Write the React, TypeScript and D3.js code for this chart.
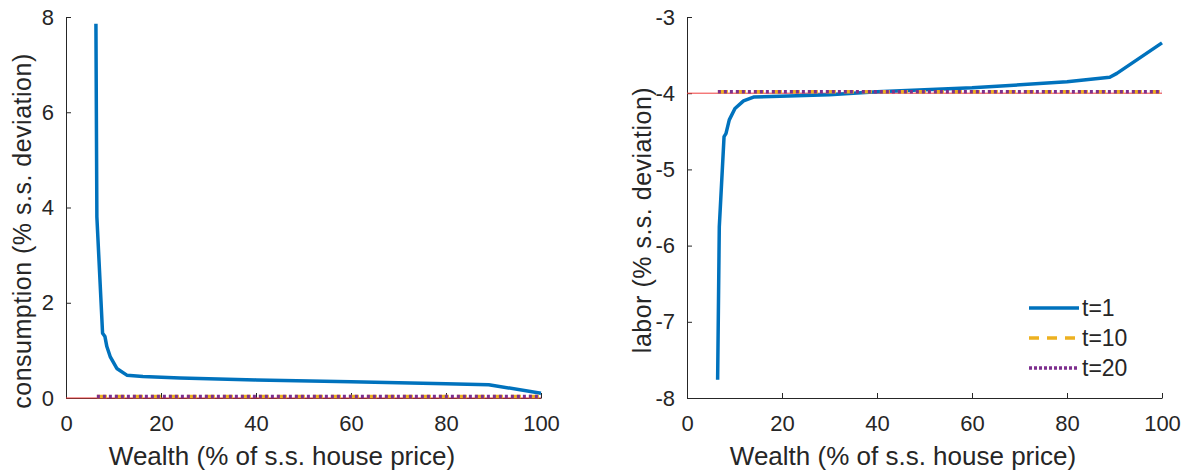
import { useEffect, useRef } from "react";
import * as d3 from "d3";

// wealth grid (% of s.s. house price) for the t=1 responses
const consWealth = [6.3, 6.5, 7.7, 8.2, 8.6, 9.3, 10.7, 12.8, 16.2, 24, 40, 60, 80, 89, 100];
const consT1 = [7.86, 3.8, 1.36, 1.29, 1.08, 0.87, 0.62, 0.48, 0.45, 0.42, 0.38, 0.34, 0.3, 0.28, 0.1];

const laborWealth = [6.45, 6.8, 7.8, 8.2, 8.9, 10.1, 11.9, 14, 19.6, 30, 40, 60, 80, 89, 90.5, 100];
const laborT1 = [-7.76, -5.75, -4.57, -4.53, -4.35, -4.2, -4.1, -4.05, -4.04, -4.02, -3.98, -3.93, -3.85, -3.79, -3.74, -3.34];

// later periods are flat near steady state
const laterWealth = [6.5, 20, 40, 60, 80, 100];
const consT10 = [0.03, 0.03, 0.03, 0.03, 0.03, 0.03];
const consT20 = [0.03, 0.03, 0.03, 0.03, 0.03, 0.03];
const laborT10 = [-3.98, -3.98, -3.98, -3.98, -3.98, -3.98];
const laborT20 = [-3.98, -3.98, -3.98, -3.98, -3.98, -3.98];

const xTicks = [0, 20, 40, 60, 80, 100];
const consTicks = [0, 2, 4, 6, 8];
const laborTicks = [-8, -7, -6, -5, -4, -3];
const legendLabels = ["t=1", "t=10", "t=20"];

const FONT = "'Liberation Sans', Arial, Helvetica, sans-serif";
const INK = "#262626";
const BLUE = "#0072BD";
const ORANGE = "#EDB120";
const PURPLE = "#7E2F8E";
const RED = "#F03C3C";

type Panel = {
  left: number;
  right: number;
  yDomain: [number, number];
  yTicks: number[];
  yLabel: string;
  yLabelX: number;
  yLabelY: number;
  xLabelX: number;
  baseline: number;
  t1: [number[], number[]];
  t10: number[];
  t20: number[];
  legend: boolean;
};

function App() {
  const ref = useRef<SVGSVGElement>(null);

  useEffect(() => {
    if (!ref.current) return;
    const svg = d3.select(ref.current);
    svg.selectAll("*").remove();

    const top = 17;
    const bottom = 398;

    const panels: Panel[] = [
      {
        left: 66,
        right: 541,
        yDomain: [0, 8],
        yTicks: consTicks,
        yLabel: "consumption (% s.s. deviation)",
        yLabelX: 31,
        yLabelY: 231,
        xLabelX: 282,
        baseline: 0,
        t1: [consWealth, consT1],
        t10: consT10,
        t20: consT20,
        legend: false,
      },
      {
        left: 687,
        right: 1162,
        yDomain: [-8, -3],
        yTicks: laborTicks,
        yLabel: "labor (% s.s. deviation)",
        yLabelX: 651,
        yLabelY: 220,
        xLabelX: 903,
        baseline: -4,
        t1: [laborWealth, laborT1],
        t10: laborT10,
        t20: laborT20,
        legend: true,
      },
    ];

    panels.forEach((p) => {
      const x = d3.scaleLinear().domain([0, 100]).range([p.left, p.right]);
      const y = d3.scaleLinear().domain(p.yDomain).range([bottom, top]);
      const line = d3
        .line<[number, number]>()
        .x((d) => x(d[0]))
        .y((d) => y(d[1]));

      const g = svg.append("g");

      // axes (MATLAB style, inward ticks, no box)
      const xAxis = g
        .append("g")
        .attr("transform", `translate(0,${bottom})`)
        .call(
          d3.axisBottom(x).tickValues(xTicks).tickSizeInner(-5).tickSizeOuter(0).tickPadding(17)
            .tickFormat((d) => String(d))
        );
      const yAxis = g
        .append("g")
        .attr("transform", `translate(${p.left},0)`)
        .call(
          d3.axisLeft(y).tickValues(p.yTicks).tickSizeInner(-5).tickSizeOuter(0).tickPadding(12)
            .tickFormat((d) => String(d))
        );

      [xAxis, yAxis].forEach((ax) => {
        ax.select(".domain").attr("stroke", INK).attr("stroke-width", 1);
        ax.selectAll(".tick line").attr("stroke", INK);
        ax.selectAll(".tick text")
          .attr("fill", INK)
          .style("font-family", FONT)
          .style("font-size", "22px");
      });

      // steady state reference
      g.append("path")
        .attr("d", line([[0, p.baseline], [100, p.baseline]]))
        .attr("fill", "none")
        .attr("stroke", RED)
        .attr("stroke-width", 1);

      g.append("path")
        .attr("d", line(p.t1[0].map((w, i) => [w, p.t1[1][i]] as [number, number])))
        .attr("fill", "none")
        .attr("stroke", BLUE)
        .attr("stroke-width", 3.5)
        .attr("stroke-linejoin", "round");

      g.append("path")
        .attr("d", line(laterWealth.map((w, i) => [w, p.t10[i]] as [number, number])))
        .attr("fill", "none")
        .attr("stroke", ORANGE)
        .attr("stroke-width", 3.5)
        .attr("stroke-dasharray", "10,8");

      g.append("path")
        .attr("d", line(laterWealth.map((w, i) => [w, p.t20[i]] as [number, number])))
        .attr("fill", "none")
        .attr("stroke", PURPLE)
        .attr("stroke-width", 3.5)
        .attr("stroke-dasharray", "3,3");

      g.append("text")
        .attr("x", p.xLabelX)
        .attr("y", 465)
        .attr("text-anchor", "middle")
        .attr("fill", INK)
        .style("font-family", FONT)
        .style("font-size", "26px")
        .text("Wealth (% of s.s. house price)");

      g.append("text")
        .attr("transform", `translate(${p.yLabelX},${p.yLabelY}) rotate(-90)`)
        .attr("text-anchor", "middle")
        .attr("fill", INK)
        .style("font-family", FONT)
        .style("font-size", "25px")
        .style("letter-spacing", "0.5px")
        .text(p.yLabel);

      if (p.legend) {
        const styles = [
          { color: BLUE, dash: null },
          { color: ORANGE, dash: "10,8" },
          { color: PURPLE, dash: "3,2" },
        ];
        const lg = g.append("g");
        legendLabels.forEach((label, i) => {
          const ly = 308 + i * 30;
          lg.append("line")
            .attr("x1", 1029)
            .attr("x2", 1079)
            .attr("y1", ly)
            .attr("y2", ly)
            .attr("stroke", styles[i].color)
            .attr("stroke-width", 3.5)
            .attr("stroke-dasharray", styles[i].dash);
          lg.append("text")
            .attr("x", 1082)
            .attr("y", ly)
            .attr("dy", "0.35em")
            .attr("fill", INK)
            .style("font-family", FONT)
            .style("font-size", "23px")
            .text(label);
        });
      }
    });
  }, []);

  return (
    <div style={{ position: "absolute", left: 0, top: 0 }}>
      <svg ref={ref} width={1185} height={472} style={{ display: "block", background: "#fff" }} />
    </div>
  );
}

export default App;
